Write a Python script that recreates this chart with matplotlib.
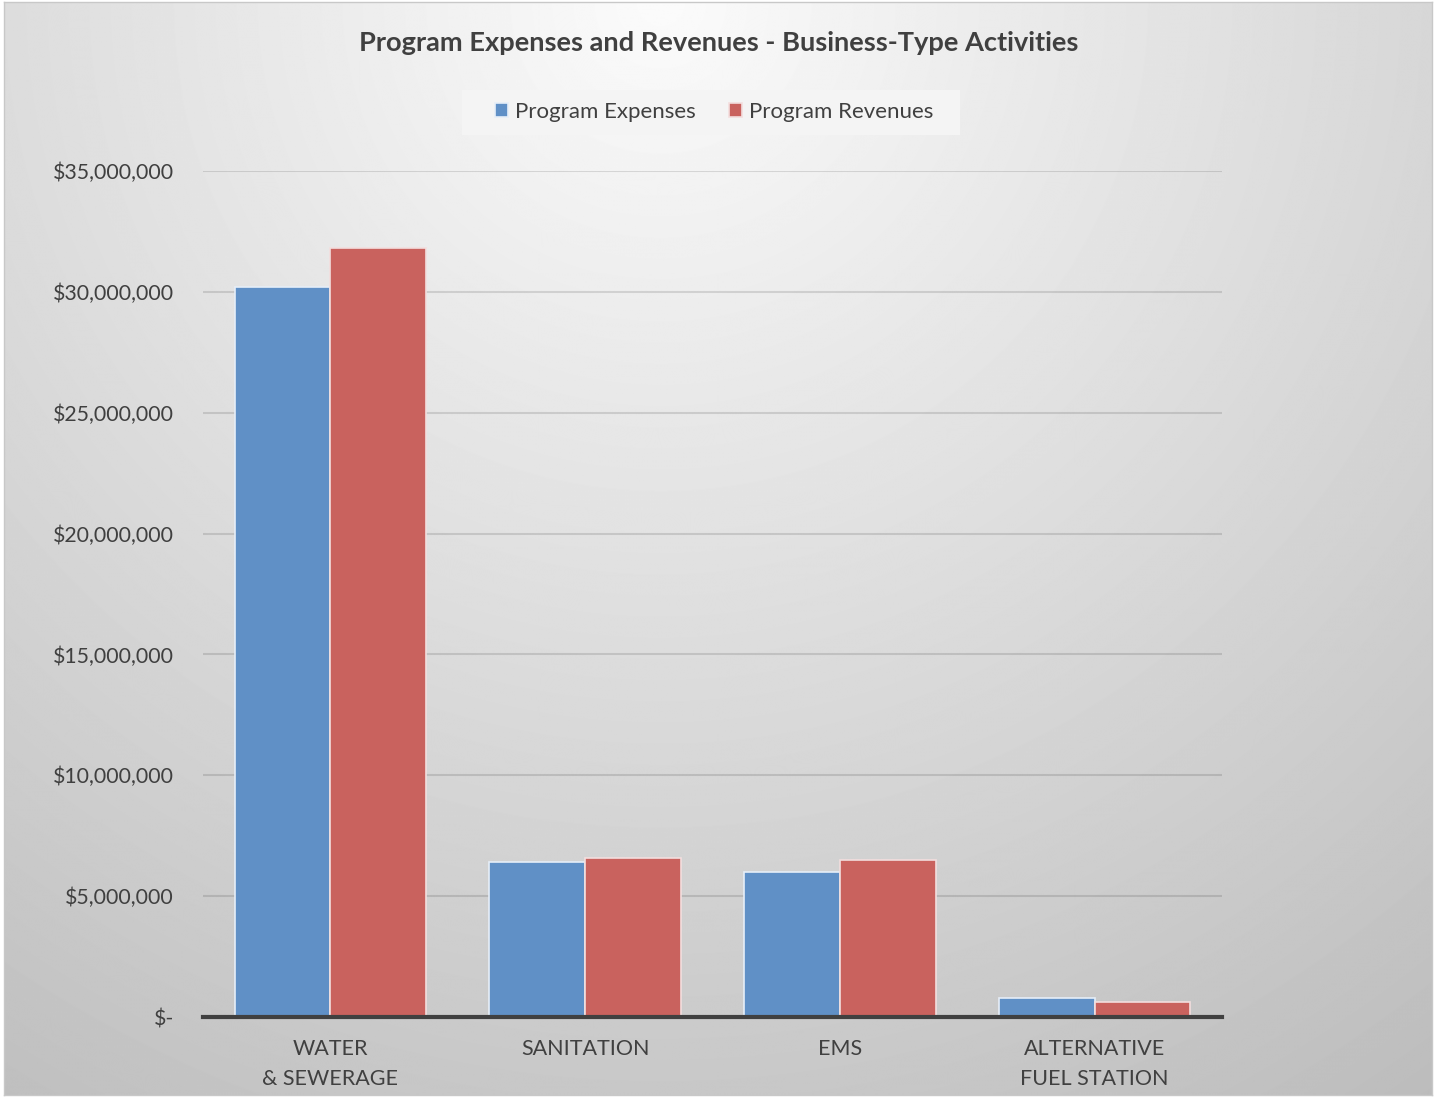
import numpy as np
import matplotlib.pyplot as plt
from matplotlib.patches import Rectangle
from matplotlib.ticker import FuncFormatter

# ---------------------------------------------------------------------
# Data
# ---------------------------------------------------------------------
categories = ["WATER\n& SEWERAGE", "SANITATION", "EMS", "ALTERNATIVE\nFUEL STATION"]
expenses = [30200000, 6400000, 6000000, 780000]
revenues = [31800000, 6570000, 6480000, 620000]
series_names = ["Program Expenses", "Program Revenues"]

plt.rcParams["font.family"] = ["Lato", "DejaVu Sans"]
text_color = "#404040"

fig = plt.figure(figsize=(14.37, 10.97), dpi=100)

# ---------------------------------------------------------------------
# Radial gradient background
# ---------------------------------------------------------------------
W, H = 1437, 1097
bg = fig.add_axes([4 / W, 2 / H, 1428 / W, 1093 / H], zorder=-10)
yy, xx = np.mgrid[0:H, 0:W]
d = np.hypot(xx - 660, yy - 0) / 1300.0
val = np.clip(0.985 - 0.24 * d, 0, 1)
bg.imshow(val, cmap="gray", vmin=0, vmax=1, aspect="auto",
          extent=[0, 1, 0, 1], interpolation="bilinear")
bg.set_xlim(0, 1)
bg.set_ylim(0, 1)
for s in bg.spines.values():
    s.set_color("#c8c8c8")
    s.set_linewidth(1)
bg.set_xticks([])
bg.set_yticks([])

# light box behind the legend
fig.patches.append(Rectangle((462 / W, 1 - 135 / H), 498 / W, 45 / H,
                             transform=fig.transFigure, facecolor="#f4f4f4",
                             edgecolor="none", zorder=-5))

# ---------------------------------------------------------------------
# Bars
# ---------------------------------------------------------------------
ax = fig.add_axes([203 / W, 1 - 1017 / H, 1019 / W, (1017 - 171) / H])
ax.patch.set_alpha(0)

x = np.arange(len(categories))
w = 0.376
ax.bar(x - w / 2, expenses, width=w, color="#6090c6",
       edgecolor="#e6eef8", linewidth=1.2, label=series_names[0], zorder=3)
ax.bar(x + w / 2, revenues, width=w, color="#c9625e",
       edgecolor="#f3dede", linewidth=1.2, label=series_names[1], zorder=3)

ax.set_xlim(-0.5, len(categories) - 0.5)
ax.set_ylim(0, 35000000)
ax.set_yticks(np.arange(0, 35000001, 5000000))
ax.yaxis.set_major_formatter(
    FuncFormatter(lambda v, p: "$-" if v == 0 else f"${v:,.0f}"))

ax.grid(axis="y", color="black", alpha=0.12, linewidth=1.5, zorder=0)
ax.set_axisbelow(True)

for side in ["left", "right", "top"]:
    ax.spines[side].set_visible(False)
ax.spines["bottom"].set_color("#404040")
ax.spines["bottom"].set_linewidth(3)
ax.spines["bottom"].set_zorder(4)

ax.set_xticks(x)
ax.set_xticklabels(categories, linespacing=1.6)
ax.tick_params(axis="x", length=0, pad=16, labelsize=15.5, labelcolor=text_color)
ax.tick_params(axis="y", length=0, pad=21, labelsize=15.3, labelcolor=text_color)

# ---------------------------------------------------------------------
# Title and legend
# ---------------------------------------------------------------------
fig.text(0.5, 1 - 43 / H, "Program Expenses and Revenues - Business-Type Activities",
         ha="center", va="center", fontsize=19.6, fontweight="bold", color=text_color)

leg = ax.legend(loc="center", bbox_to_anchor=(714 / W, 1 - 112 / H),
                bbox_transform=fig.transFigure, ncol=2, frameon=False,
                fontsize=16, handlelength=0.6, handleheight=0.6,
                columnspacing=1.5, handletextpad=0.3,
                labelcolor=text_color)

plt.savefig("out.png", dpi=100, facecolor="white")
